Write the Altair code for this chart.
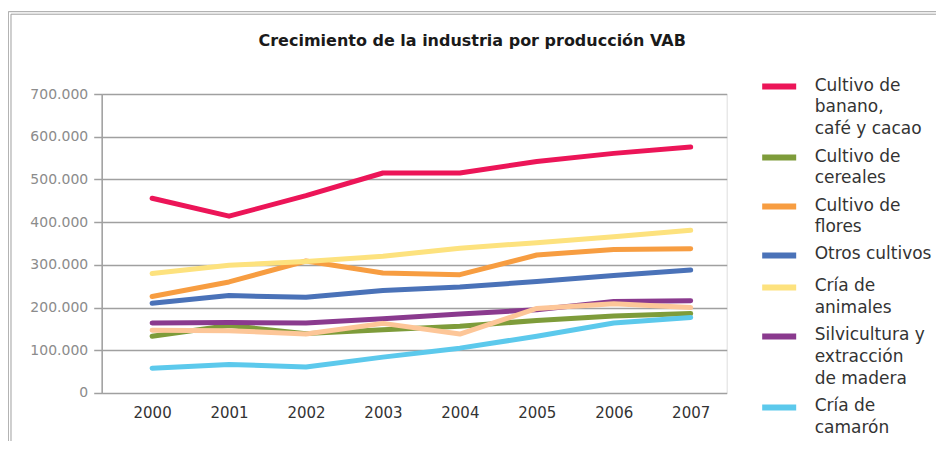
import json
import altair as alt
import pandas as pd

years = [2000, 2001, 2002, 2003, 2004, 2005, 2006, 2007]

series = [
    "Cultivo de banano, café y cacao",
    "Cultivo de cereales",
    "Cultivo de flores",
    "Otros cultivos",
    "Cría de animales",
    "Silvicultura y extracción de madera",
    "Cría de camarón",
]
legend_lines = [
    ["Cultivo de", "banano,", "café y cacao"],
    ["Cultivo de", "cereales"],
    ["Cultivo de", "flores"],
    ["Otros cultivos"],
    ["Cría de", "animales"],
    ["Silvicultura y", "extracción", "de madera"],
    ["Cría de", "camarón"],
]
colors = ["#EC1558", "#7E9C3A", "#F79D41", "#4A72B8", "#FDE27E", "#8A3A8E", "#5CC9EC"]

banano = [456000, 414000, 462000, 515000, 515000, 542000, 561000, 576000]
cereales = [133000, 158000, 139000, 148000, 156000, 170000, 180000, 186000]
flores = [226000, 260000, 309000, 281000, 277000, 323000, 336000, 338000]
otros = [210000, 228000, 224000, 240000, 248000, 261000, 275000, 288000]
animales = [280000, 299000, 308000, 320000, 339000, 352000, 366000, 381000]
silvicultura = [164000, 165000, 164000, 174000, 185000, 195000, 214000, 216000]
camaron = [58000, 67000, 61000, 84000, 105000, 133000, 164000, 177000]

# eighth series drawn in the chart without a legend entry
sin_leyenda_nombre = "Serie sin leyenda"
sin_leyenda_color = "#FDC698"
sin_leyenda = [147000, 146000, 138000, 163000, 138000, 198000, 209000, 200000]

values = [banano, cereales, flores, otros, animales, silvicultura, camaron]

rows = []
for name, vals in zip(series, values):
    for y, v in zip(years, vals):
        rows.append({"serie": name, "anio": y, "valor": v})
df = pd.DataFrame(rows)
df_extra = pd.DataFrame({"serie": sin_leyenda_nombre, "anio": years, "valor": sin_leyenda})

label_expr = ""
for name, lines in zip(series, legend_lines):
    label_expr += f"datum.label == {json.dumps(name, ensure_ascii=False)} ? {json.dumps(lines, ensure_ascii=False)} : "
label_expr += "datum.label"

FONT = "DejaVu Sans"

x_enc = alt.X(
    "anio:Q",
    scale=alt.Scale(domain=[1999.345, 2007.468], nice=False, zero=False),
    axis=alt.Axis(
        values=years, format="d", title=None, grid=False, ticks=False, domain=False,
        labelFont=FONT, labelFontSize=15, labelColor="#333333", labelPadding=13,
    ),
)
y_enc = alt.Y(
    "valor:Q",
    scale=alt.Scale(domain=[0, 700000], nice=False),
    axis=alt.Axis(
        values=[0, 100000, 200000, 300000, 400000, 500000, 600000, 700000],
        labelExpr="replace(format(datum.value, ','), ',', '.')",
        title=None, grid=True, gridColor="#A0A0A0", gridWidth=1.5,
        ticks=True, tickSize=8, tickColor="#A0A0A0", tickWidth=1.5,
        domain=True, domainColor="#A0A0A0", domainWidth=1.5,
        labelFont=FONT, labelFontSize=14, labelColor="#8C8C8C", labelPadding=6,
    ),
)

lines = alt.Chart(df).mark_line(strokeWidth=5, strokeCap="round", strokeJoin="round").encode(
    x=x_enc,
    y=y_enc,
    color=alt.Color(
        "serie:N",
        scale=alt.Scale(domain=series, range=colors),
        sort=series,
        legend=alt.Legend(
            title=None, orient="none", legendX=669, legendY=-25, padding=0,
            symbolType="M-3.4,1.8L3.4,1.8", symbolSize=100, symbolStrokeWidth=6,
            labelExpr=label_expr, labelFont=FONT, labelFontSize=17, labelColor="#333333",
            labelBaseline="top", labelOffset=27, labelLimit=300,
            rowPadding=2, symbolOffset=0,
        ),
    ),
)

extra = alt.Chart(df_extra).mark_line(
    strokeWidth=5, strokeCap="round", strokeJoin="round", color=sin_leyenda_color
).encode(x="anio:Q", y="valor:Q")

frame_outer = alt.Chart(alt.Data(values=[{}])).mark_rect(
    filled=False, stroke="#A0A0A0", strokeWidth=1
).encode(x=alt.value(-93.4), x2=alt.value(900), y=alt.value(-82.3), y2=alt.value(420))
frame_inner = alt.Chart(alt.Data(values=[{}])).mark_rect(
    filled=False, stroke="#A0A0A0", strokeWidth=1
).encode(x=alt.value(-90.7), x2=alt.value(900), y=alt.value(-79.8), y2=alt.value(420))

chart = alt.layer(frame_outer, frame_inner, lines, extra).properties(
    width=625,
    height=299,
    title=alt.TitleParams(
        "Crecimiento de la industria por producción VAB",
        font=FONT, fontSize=16, fontWeight="bold", color="#1A1A1A",
        anchor="middle", baseline="bottom", dx=58, offset=0, dy=54,
    ),
    padding={"left": 93.7, "top": 86, "right": 209, "bottom": 48},
    autosize=alt.AutoSizeParams(type="none"),
).configure_view(stroke=None).configure(style={"guide-label": {"lineHeight": 22}})

chart.save("out.html", embed_options={"renderer": "svg", "actions": False})
